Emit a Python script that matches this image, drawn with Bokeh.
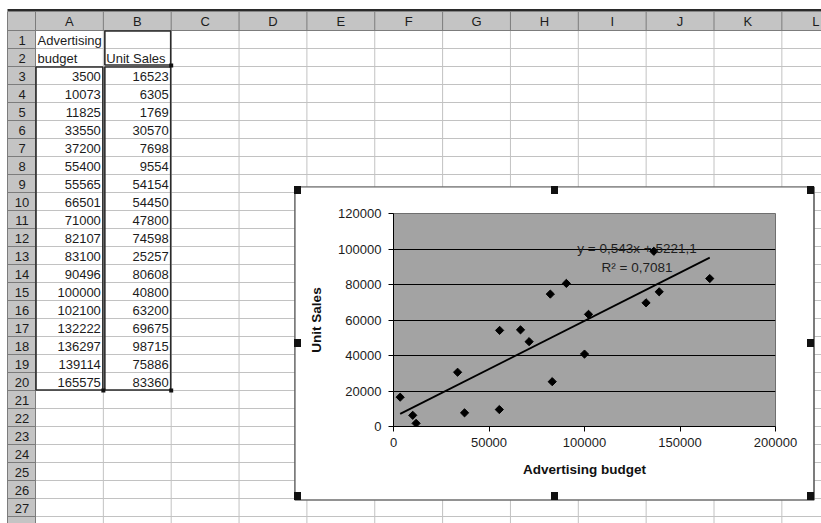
from bokeh.plotting import figure
from bokeh.models import Range1d, FixedTicker, BasicTickFormatter, Div
from bokeh.layouts import column
from bokeh.core.properties import value
from bokeh.embed import file_html
from bokeh.resources import INLINE

# ---- worksheet contents -------------------------------------------------
budget = [3500, 10073, 11825, 33550, 37200, 55400, 55565, 66501, 71000,
          82107, 83100, 90496, 100000, 102100, 132222, 136297, 139114, 165575]
unit_sales = [16523, 6305, 1769, 30570, 7698, 9554, 54154, 54450, 47800,
              74598, 25257, 80608, 40800, 63200, 69675, 98715, 75886, 83360]
header_a = ["Advertising", "budget"]
header_b = ["", "Unit Sales"]
col_letters = ["A", "B", "C", "D", "E", "F", "G", "H", "I", "J", "K", "L"]

# ---- chart settings -----------------------------------------------------
x_ticks = [0, 50000, 100000, 150000, 200000]
y_ticks = [0, 20000, 40000, 60000, 80000, 100000, 120000]
slope = 0.543
intercept = 5221.1
eq_text = "y = 0,543x + 5221,1"
r2_text = "R\u00b2 = 0,7081"

FONT = "Liberation Sans"
TEXT = "#1c1c1c"
W, H = 821, 523

# ---- sheet geometry (pixels) -------------------------------------------
RH_L, RH_R = 7, 35            # row-header column
HDR_T, HDR_B = 11, 30         # column-header row
COL_W = 67.85
ROW_H = 18
col_edges = [RH_R + i * COL_W for i in range(13)]
row_edges = [HDR_B + i * ROW_H for i in range(29)]
n_rows = 28
n_labelled = 27

sheet = figure(width=W, height=H, x_range=Range1d(0, W), y_range=Range1d(H, 0),
               x_axis_location=None, y_axis_location=None,
               toolbar_location=None, output_backend="svg", min_border=0,
               outline_line_color=None, background_fill_color="white",
               border_fill_color="white", frame_align=False)
sheet.grid.visible = False

# light cell gridlines
vx = [e for e in col_edges[1:] if e < W]
sheet.segment(x0=vx, y0=[HDR_B] * len(vx), x1=vx, y1=[H] * len(vx),
              line_color="#c2c2c2", line_width=1)
hy = [e for e in row_edges[1:] if e < H]
sheet.segment(x0=[RH_R] * len(hy), y0=hy, x1=[W] * len(hy), y1=hy,
              line_color="#c2c2c2", line_width=1)

# header strips
sheet.quad(left=[RH_L, RH_L], right=[W, RH_R], top=[HDR_T, HDR_T],
           bottom=[HDR_B, H], fill_color="#c4c4c4", line_color=None)
sheet.quad(left=[RH_L], right=[W], top=[8.5], bottom=[HDR_T],
           fill_color="#2a2a2a", line_color=None)

hx = [e for e in col_edges if e < W]
sheet.segment(x0=hx, y0=[HDR_T] * len(hx), x1=hx, y1=[HDR_B] * len(hx),
              line_color="#7c7c7c", line_width=1)
ry = [e for e in row_edges if e < H]
sheet.segment(x0=[RH_L] * len(ry), y0=ry, x1=[RH_R] * len(ry), y1=ry,
              line_color="#7c7c7c", line_width=1)
sheet.segment(x0=[RH_L, RH_L, RH_R], y0=[HDR_B, HDR_T, HDR_T],
              x1=[W, RH_L, RH_R], y1=[HDR_B, H, H],
              line_color="#7c7c7c", line_width=1)

# header captions
col_centers = [(col_edges[i] + col_edges[i + 1]) / 2 for i in range(len(col_letters))]
sheet.text(x=col_centers, y=[(HDR_T + HDR_B) / 2 + 0.5] * len(col_letters),
           text=col_letters, text_font=value(FONT), text_font_size="13px",
           text_align="center", text_baseline="middle", text_color=TEXT)
row_centers = [(row_edges[i] + row_edges[i + 1]) / 2 + 1 for i in range(n_rows)]
sheet.text(x=[(RH_L + RH_R) / 2 + 0.5] * n_labelled, y=row_centers[:n_labelled],
           text=[str(i + 1) for i in range(n_labelled)], text_font=value(FONT),
           text_font_size="13px", text_align="center", text_baseline="middle",
           text_color=TEXT)

# cell texts: titles in rows 1-2, numbers in rows 3-20
sheet.text(x=[col_edges[0] + 2] * 2, y=row_centers[0:2], text=header_a,
           text_font=value(FONT), text_font_size="13px", text_align="left",
           text_baseline="middle", text_color=TEXT)
sheet.text(x=[col_edges[1] + 3] * 2, y=row_centers[0:2], text=header_b,
           text_font=value(FONT), text_font_size="13px", text_align="left",
           text_baseline="middle", text_color=TEXT)
n = len(budget)
sheet.text(x=[col_edges[1] - 2.5] * n, y=row_centers[2:2 + n],
           text=[str(v) for v in budget], text_font=value(FONT),
           text_font_size="13px", text_align="right", text_baseline="middle",
           text_color=TEXT)
sheet.text(x=[col_edges[2] - 2.5] * n, y=row_centers[2:2 + n],
           text=[str(v) for v in unit_sales], text_font=value(FONT),
           text_font_size="13px", text_align="right", text_baseline="middle",
           text_color=TEXT)

# outlined source ranges with their corner handles
top3, bot20 = row_edges[2], row_edges[2 + n]
sheet.quad(left=[col_edges[0] + 0.5, col_edges[1] + 1.5, col_edges[1] + 1.5],
           right=[col_edges[1] - 0.5, col_edges[2] - 0.5, col_edges[2] - 0.5],
           top=[top3 + 0.5, HDR_B + 0.5, top3 + 0.5],
           bottom=[bot20 - 0.5, top3 - 1.5, bot20 - 0.5],
           fill_color=None, line_color="#2b2b2b", line_width=1.6)
hxs = [col_edges[2], col_edges[1], col_edges[2]]
hys = [top3 - 1, bot20, bot20]
sheet.quad(left=[v - 2 for v in hxs], right=[v + 2 for v in hxs],
           top=[v - 2 for v in hys], bottom=[v + 2 for v in hys],
           fill_color="#111111", line_color=None)

# chart box frame (the chart itself sits inside it)
BOX_L, BOX_R, BOX_T, BOX_B = 294, 813, 186, 499
sheet.quad(left=[BOX_L], right=[BOX_R + 1], top=[BOX_T], bottom=[BOX_B + 1],
           fill_color="white", line_color=None)
sheet.quad(left=[BOX_L + 0.5], right=[BOX_R + 0.5], top=[BOX_T + 0.5],
           bottom=[BOX_B + 0.5], fill_color=None, line_color="#262626",
           line_width=1.2)

# ---- embedded scatter chart ---------------------------------------------
CH_L, CH_T = BOX_L + 1, BOX_T + 1
CH_W, CH_H = BOX_R - BOX_L - 1, BOX_B - BOX_T - 1
FR_L, FR_R, FR_T, FR_B = 393, 775, 213, 426

chart = figure(width=CH_W, height=CH_H,
               x_range=Range1d(x_ticks[0], x_ticks[-1]),
               y_range=Range1d(y_ticks[0], y_ticks[-1]),
               toolbar_location=None, output_backend="svg",
               min_border_left=FR_L - CH_L, min_border_right=CH_L + CH_W - FR_R,
               min_border_top=FR_T - CH_T, min_border_bottom=CH_T + CH_H - FR_B,
               background_fill_color="#a3a3a3", border_fill_color="white",
               outline_line_color="#6f6f6f", frame_align=False)
chart.styles = {"position": "absolute", "left": f"{CH_L}px", "top": f"{CH_T}px"}

chart.xaxis.ticker = FixedTicker(ticks=x_ticks)
chart.yaxis.ticker = FixedTicker(ticks=y_ticks)
chart.xaxis.formatter = BasicTickFormatter(use_scientific=False)
chart.yaxis.formatter = BasicTickFormatter(use_scientific=False)
chart.xaxis.axis_label = "Advertising budget"
chart.yaxis.axis_label = "Unit Sales"
for ax in chart.axis:
    ax.axis_line_color = "black"
    ax.axis_line_width = 1
    ax.major_tick_line_color = "black"
    ax.minor_tick_line_color = None
    ax.major_tick_out = 5
    ax.major_tick_in = 0
    ax.major_label_text_font = FONT
    ax.major_label_text_font_size = "13px"
    ax.major_label_text_color = TEXT
    ax.axis_label_text_font = FONT
    ax.axis_label_text_font_size = "13.5px"
    ax.axis_label_text_font_style = "bold"
    ax.axis_label_text_color = "#111111"
chart.yaxis.major_label_standoff = 7
chart.xaxis.major_label_standoff = 6
chart.yaxis.axis_label_standoff = 11
chart.xaxis.axis_label_standoff = 12

chart.xgrid.visible = False
chart.ygrid.ticker = FixedTicker(ticks=y_ticks[1:-1])
chart.ygrid.grid_line_color = "black"
chart.ygrid.grid_line_width = 1

# linear trend line from the stated fit
trend_x = [min(budget), max(budget)]
trend_y = [slope * v + intercept for v in trend_x]
chart.line(trend_x, trend_y, line_color="black", line_width=1.8)

# data points as diamonds
chart.scatter(budget, unit_sales, marker="square", angle=0.7853981634,
              size=5.8, fill_color="black", line_color="black")

# equation of the fit
chart.text(x=[127500, 127500], y=[100300, 89600], text=[eq_text, r2_text],
           text_font=value(FONT), text_font_size="13.5px", text_align="center",
           text_baseline="middle", text_color="#1e1e1e")

# selection handles around the chart box
handle_pos = [(294, 186), (551, 186), (807, 186), (294, 339), (807, 339),
              (294, 492), (551, 492), (807, 492)]
handles = [Div(text="", width=7, height=8, margin=0,
               styles={"position": "absolute", "left": f"{x}px", "top": f"{y}px",
                       "background-color": "#111111", "padding": "0px"})
           for x, y in handle_pos]

root = column(sheet, chart, *handles)
root.styles = {"position": "relative"}

open("out.html", "w").write(file_html(root, INLINE))
